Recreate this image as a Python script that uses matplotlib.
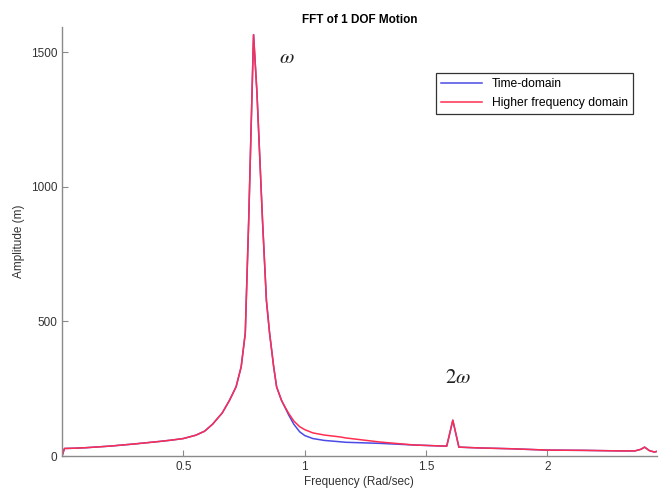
import matplotlib
matplotlib.use("Agg")
import matplotlib.pyplot as plt

plt.rcParams['font.family'] = ['Liberation Sans', 'DejaVu Sans']
plt.rcParams['mathtext.fontset'] = 'stix'

# Frequency grid (rad/s) and amplitudes
freq = [0.0, 0.01, 0.05, 0.1, 0.2, 0.3, 0.4, 0.45, 0.5, 0.55, 0.587, 0.62,
        0.66, 0.69, 0.717, 0.738, 0.755, 0.759, 0.769, 0.789, 0.803, 0.826,
        0.842, 0.855, 0.872, 0.884, 0.904, 0.92, 0.934, 0.955, 0.979, 1.0,
        1.033, 1.08, 1.145, 1.17, 1.31, 1.45, 1.57, 1.585, 1.61, 1.635,
        1.72, 1.85, 2.0, 2.15, 2.3, 2.36, 2.385, 2.40, 2.42, 2.44, 2.45]
amp_time = [0, 28, 29, 31, 37, 45, 54, 59, 65, 77, 92, 118,
            160, 207, 257, 331, 457, 578, 874, 1565, 1350, 874,
            578, 457, 331, 257, 207, 178, 152, 118, 90, 76,
            65, 58, 53, 51, 47, 41, 37, 37, 133, 33,
            30, 27, 22, 21, 19, 19, 25, 33, 20, 15, 17]
amp_high = [0, 28, 29, 31, 37, 45, 54, 59, 65, 77, 92, 118,
            160, 207, 257, 331, 457, 578, 874, 1565, 1350, 874,
            578, 457, 331, 257, 207, 180, 158, 130, 109, 98,
            86, 78, 71, 67, 52, 41, 37, 37, 133, 33,
            30, 27, 22, 21, 19, 19, 25, 33, 20, 15, 17]

labels = ['Time-domain', 'Higher frequency domain']

fig = plt.figure(figsize=(6.6, 4.93), dpi=100)
ax = fig.add_axes([0.094, 0.075, 0.901, 0.870])

ax.plot(freq, amp_time, color='#4a4ae6', lw=1.1, label=labels[0])
ax.plot(freq, amp_high, color='#ff2e50', lw=1.1, label=labels[1])

ax.set_xlim(0, 2.45)
ax.set_ylim(0, 1593)
ax.set_xticks([0.5, 1, 1.5, 2])
ax.set_xticklabels(['0.5', '1', '1.5', '2'])
ax.set_yticks([0, 500, 1000, 1500])

for s in ['top', 'right']:
    ax.spines[s].set_visible(False)
for s in ['left', 'bottom']:
    ax.spines[s].set_color('#8a8a8a')
    ax.spines[s].set_linewidth(1.0)
ax.tick_params(direction='in', length=4, color='#8a8a8a', labelsize=8.5,
               labelcolor='#333333')

ax.set_title('FFT of 1 DOF Motion', fontsize=8.5, fontweight='bold', pad=3)
ax.set_xlabel('Frequency (Rad/sec)', fontsize=8.5, color='#333333', labelpad=2)
ax.set_ylabel('Amplitude (m)', fontsize=8.5, color='#333333', labelpad=4)

ax.text(0.925, 1480, r'$\omega$', fontsize=15, ha='center', va='center', color='#222222')
ax.text(1.63, 293, r'$2\omega$', fontsize=15, ha='center', va='center', color='#222222')

leg = ax.legend(loc='upper right', bbox_to_anchor=(0.96, 0.893), borderaxespad=0,
                fancybox=False, edgecolor='#333333', fontsize=8.7,
                handlelength=3.4, labelspacing=0.6, framealpha=1)
leg.get_frame().set_linewidth(0.9)

fig.savefig('out.png', dpi=100)
